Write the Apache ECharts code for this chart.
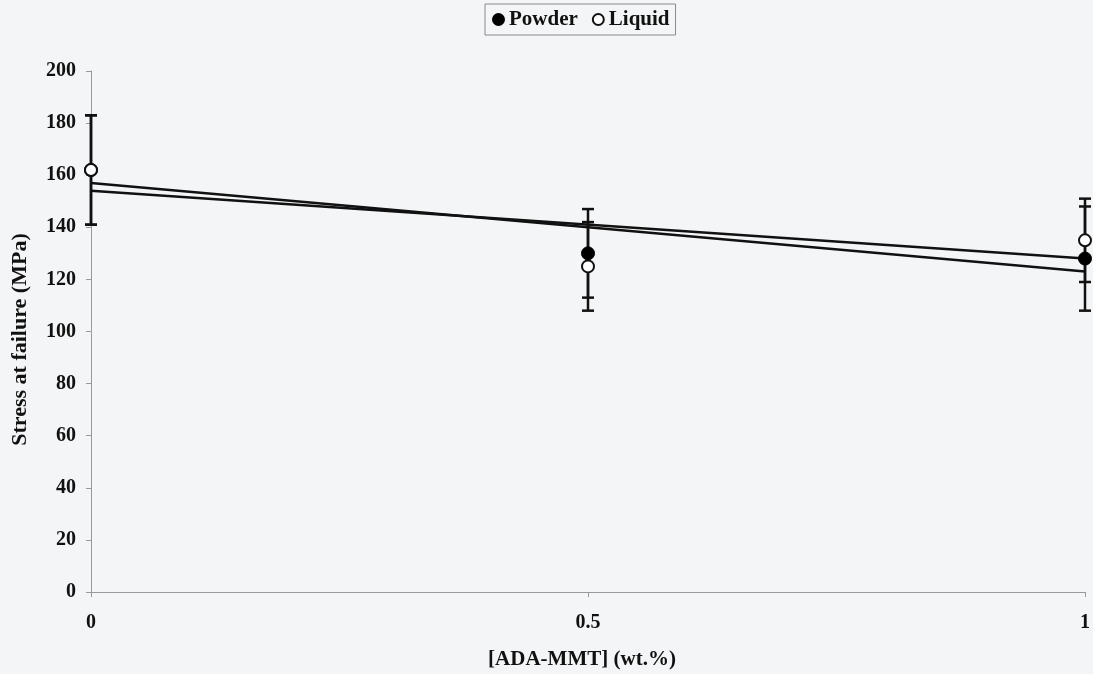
<!DOCTYPE html>
<html>
<head>
<meta charset="utf-8">
<script src="https://cdn.jsdelivr.net/npm/echarts@6/dist/echarts.min.js"></script>
<style>
  html, body { margin: 0; padding: 0; background: #f4f5f6; }
  #chart { width: 1093px; height: 674px; }
</style>
</head>
<body>
<div id="chart"></div>
<script>
// Clay loading (wt.%) and stress at failure (MPa), mean ± error
const xValues = [0, 0.5, 1];
const powderMean = [162, 130, 128];
const powderErr = [21, 17, 20];
const liquidMean = [162, 125, 135];
const liquidErr = [21, 17, 16];
// Linear trend lines, values at x = 0 and x = 1
const trendX = [0, 1];
const powderTrend = [157, 123];
const liquidTrend = [154, 128];
const yTicks = [0, 200, 20];

const FONT = '"Liberation Serif", "Times New Roman", serif';

function pairs(xs, ys) { return xs.map((x, i) => [x, ys[i]]); }
function errData(xs, m, e) { return xs.map((x, i) => [x, m[i] - e[i], m[i] + e[i]]); }

function renderErr(params, api) {
  const x = api.value(0);
  const lo = api.coord([x, api.value(1)]);
  const hi = api.coord([x, api.value(2)]);
  const half = 6;
  const style = { stroke: '#111', lineWidth: 2.5 };
  return {
    type: 'group',
    children: [
      { type: 'line', shape: { x1: lo[0], y1: lo[1], x2: hi[0], y2: hi[1] }, style },
      { type: 'line', shape: { x1: hi[0] - half, y1: hi[1], x2: hi[0] + half, y2: hi[1] }, style },
      { type: 'line', shape: { x1: lo[0] - half, y1: lo[1], x2: lo[0] + half, y2: lo[1] }, style }
    ]
  };
}

const chart = echarts.init(document.getElementById('chart'));
chart.setOption({
  backgroundColor: '#f4f5f6',
  animation: false,
  textStyle: { fontFamily: FONT },
  legend: {
    data: ['Powder', 'Liquid'],
    left: 485,
    top: 4,
    padding: [5, 6, 5, 7],
    itemGap: 14,
    itemWidth: 11,
    itemHeight: 11,
    borderColor: '#8a8a8a',
    borderWidth: 1,
    textStyle: { fontFamily: FONT, fontWeight: 'bold', fontSize: 21, color: '#111' }
  },
  grid: { left: 91, right: 8, top: 71, bottom: 82, outerBoundsMode: 'none', containLabel: false },
  xAxis: {
    type: 'value',
    min: 0,
    max: 1,
    interval: 0.5,
    axisLine: { lineStyle: { color: '#999', width: 1 } },
    axisTick: { show: true, inside: false, length: 5, lineStyle: { color: '#999' } },
    splitLine: { show: false },
    axisLabel: { fontFamily: FONT, fontWeight: 'bold', fontSize: 20, color: '#111', margin: 21 },
    name: '[ADA-MMT] (wt.%)',
    nameLocation: 'middle',
    nameGap: 57,
    nameTextStyle: { fontFamily: FONT, fontWeight: 'bold', fontSize: 21, color: '#111', padding: [0, 12, 0, 0] }
  },
  yAxis: {
    type: 'value',
    min: yTicks[0],
    max: yTicks[1],
    interval: yTicks[2],
    axisLine: { show: true, lineStyle: { color: '#999', width: 1 } },
    axisTick: { show: true, length: 5, lineStyle: { color: '#999' } },
    splitLine: { show: false },
    axisLabel: { fontFamily: FONT, fontWeight: 'bold', fontSize: 20, color: '#111', margin: 15 },
    name: 'Stress at failure (MPa)',
    nameLocation: 'middle',
    nameGap: 60,
    nameTextStyle: { fontFamily: FONT, fontWeight: 'bold', fontSize: 22, color: '#111', padding: [0, 16, 0, 0] }
  },
  series: [
    {
      name: 'PowderTrend', type: 'line', data: pairs(trendX, powderTrend),
      symbol: 'none', lineStyle: { color: '#111', width: 2.5 }, z: 2, silent: true
    },
    {
      name: 'LiquidTrend', type: 'line', data: pairs(trendX, liquidTrend),
      symbol: 'none', lineStyle: { color: '#111', width: 2.5 }, z: 2, silent: true
    },
    { name: 'PowderErr', type: 'custom', renderItem: renderErr, data: errData(xValues, powderMean, powderErr), z: 3 },
    { name: 'LiquidErr', type: 'custom', renderItem: renderErr, data: errData(xValues, liquidMean, liquidErr), z: 3 },
    {
      name: 'Powder', type: 'scatter', data: pairs(xValues, powderMean),
      symbol: 'circle', symbolSize: 13,
      itemStyle: { color: '#000', borderColor: '#000', borderWidth: 1, opacity: 1 }, z: 4
    },
    {
      name: 'Liquid', type: 'scatter', data: pairs(xValues, liquidMean),
      symbol: 'circle', symbolSize: 12,
      itemStyle: { color: '#ffffff', borderColor: '#111', borderWidth: 2, opacity: 1 }, z: 5
    }
  ]
});
</script>
</body>
</html>
